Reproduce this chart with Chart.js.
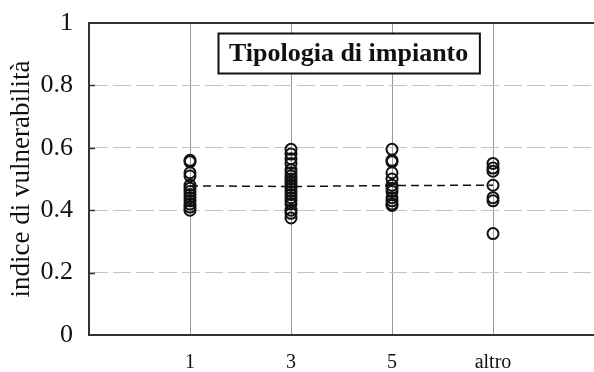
<!DOCTYPE html>
<html>
<head>
<meta charset="utf-8">
<script src="https://cdn.jsdelivr.net/npm/chart.js@4"></script>
<style>
  html, body { margin: 0; padding: 0; background: #fff; overflow: hidden; }
  #wrap { width: 594px; height: 372px; }
  canvas { display: block; }
</style>
</head>
<body>
<div id="wrap"><canvas id="vulnChart"></canvas></div>
<script>
const categories = ['1', '3', '5', 'altro'];
const yTicks = [0, 0.2, 0.4, 0.6, 0.8, 1];

// vulnerability index per plant type
const tipo1 = [0.56, 0.555, 0.52, 0.51, 0.48, 0.47, 0.46, 0.45, 0.44, 0.43, 0.42, 0.41, 0.40];
const tipo3 = [0.595, 0.58, 0.565, 0.55, 0.53, 0.52, 0.51, 0.50, 0.49, 0.48, 0.47, 0.46, 0.45, 0.44, 0.43, 0.42, 0.40, 0.39, 0.375];
const tipo5 = [0.595, 0.56, 0.555, 0.52, 0.50, 0.48, 0.47, 0.46, 0.44, 0.43, 0.42, 0.415];
const tipoAltro = [0.55, 0.535, 0.525, 0.48, 0.44, 0.43, 0.325];
const meanValues = [0.478, 0.476, 0.479, 0.48];

const chartTitle = 'Tipologia di impianto';
const serif = '"Liberation Serif", "Times New Roman", serif';

const groups = [tipo1, tipo3, tipo5, tipoAltro];
const points = [];
groups.forEach((vals, i) => {
  vals.forEach(v => points.push({ x: i + 1, y: v }));
});
const meanLine = meanValues.map((v, i) => ({ x: i + 1, y: v }));

const framePlugin = {
  id: 'frame',
  afterDraw(chart) {
    const { ctx, chartArea: a, scales } = chart;
    ctx.save();
    // top edge of the plot box
    ctx.strokeStyle = '#333';
    ctx.lineWidth = 2;
    ctx.beginPath();
    ctx.moveTo(a.left, a.top);
    ctx.lineTo(a.right, a.top);
    ctx.stroke();

    // inner tick marks on the y axis
    ctx.lineWidth = 1.5;
    yTicks.slice(1, -1).forEach(v => {
      const y = Math.round(scales.y.getPixelForValue(v)) + 0.5;
      ctx.beginPath();
      ctx.moveTo(a.left, y);
      ctx.lineTo(a.left + 6, y);
      ctx.stroke();
    });

    // boxed title
    ctx.font = 'bold 26px ' + serif;
    const w = ctx.measureText(chartTitle).width;
    const cx = a.left + (a.right - a.left) * 0.514;
    const bw = w + 22;
    const bh = 40;
    const bx = Math.round(cx - bw / 2) + 0.5;
    const by = a.top + 10.5;
    ctx.fillStyle = '#fff';
    ctx.fillRect(bx, by, bw, bh);
    ctx.strokeStyle = '#111';
    ctx.lineWidth = 2;
    ctx.strokeRect(bx, by, bw, bh);
    ctx.fillStyle = '#111';
    ctx.textAlign = 'center';
    ctx.textBaseline = 'middle';
    ctx.fillText(chartTitle, cx, by + bh / 2 + 1);
    ctx.restore();
  }
};

new Chart(document.getElementById('vulnChart'), {
  type: 'scatter',
  data: {
    datasets: [
      {
        type: 'line',
        label: 'media',
        data: meanLine,
        borderColor: '#111',
        borderWidth: 1.5,
        borderDash: [8, 5],
        pointRadius: 0,
        fill: false,
        order: 2
      },
      {
        label: 'indice',
        data: points,
        pointStyle: 'circle',
        pointRadius: 5.5,
        pointBorderWidth: 2,
        pointBorderColor: '#111',
        pointBackgroundColor: 'rgba(0,0,0,0)',
        order: 1
      }
    ]
  },
  options: {
    responsive: true,
    maintainAspectRatio: false,
    animation: false,
    layout: { autoPadding: false, padding: { top: 23, right: 0, left: 0, bottom: 0 } },
    plugins: {
      legend: { display: false },
      tooltip: { enabled: false }
    },
    scales: {
      x: {
        type: 'linear',
        min: 0,
        max: 5,
        afterFit: s => {
          s.height = 37;
          s.paddingLeft = 0;
          s.paddingRight = 0;
        },
        ticks: {
          stepSize: 1,
          padding: 16,
          color: '#111',
          font: { family: serif, size: 20 },
          callback: v => categories[v - 1] || ''
        },
        grid: {
          drawTicks: false,
          lineWidth: 1,
          color: c => (c.tick && c.tick.value >= 1 && c.tick.value <= 4) ? '#999' : 'rgba(0,0,0,0)'
        },
        border: { display: true, color: '#333', width: 2 }
      },
      y: {
        min: 0,
        max: 1,
        afterFit: s => {
          s.width = 89;
          s.paddingTop = 0;
          s.paddingBottom = 0;
        },
        ticks: {
          stepSize: 0.2,
          padding: 16,
          color: '#111',
          font: { family: serif, size: 26 },
          callback: v => String(Number(v.toFixed(1)))
        },
        grid: {
          drawTicks: false,
          lineWidth: 1,
          color: c => (c.tick && c.tick.value > 0.01 && c.tick.value < 0.99) ? '#c4c4c4' : 'rgba(0,0,0,0)'
        },
        border: { display: true, color: '#333', width: 2, dash: [18, 5] },
        title: {
          display: true,
          text: 'indice di vulnerabilità',
          color: '#111',
          font: { family: serif, size: 27 },
          padding: { top: 6, bottom: 0 }
        }
      }
    }
  },
  plugins: [framePlugin]
});
</script>
</body>
</html>
